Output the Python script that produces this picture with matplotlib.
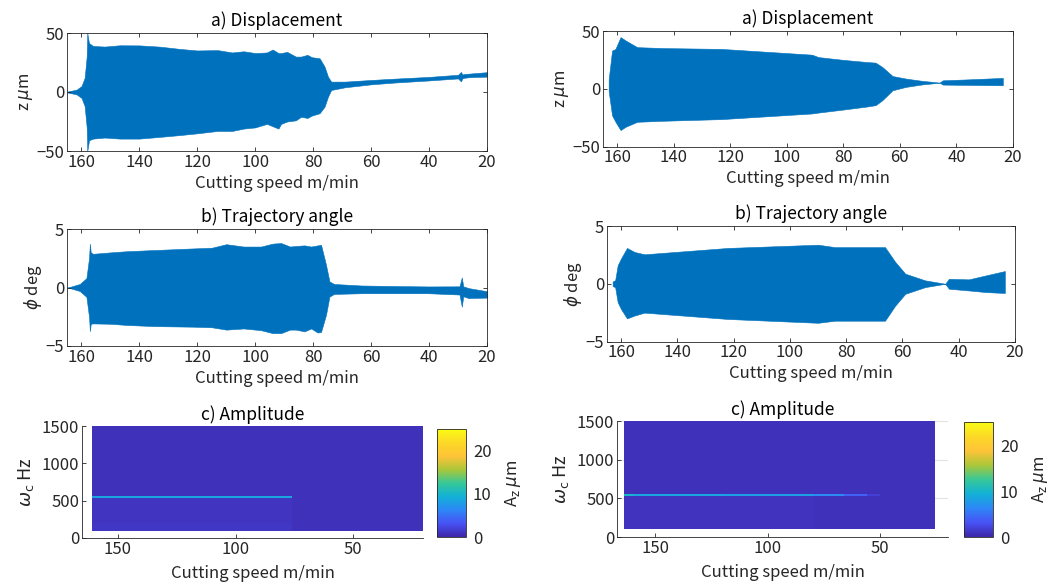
import numpy as np
import matplotlib
matplotlib.use("Agg")
import matplotlib.pyplot as plt
from matplotlib.colors import LinearSegmentedColormap

plt.rcParams['font.family'] = ['Noto Sans CJK JP', 'DejaVu Sans']
plt.rcParams['mathtext.fontset'] = 'dejavusans'

# ---------------- data ----------------
# Left column, a) displacement envelope (z, um)
L_disp_speed = [165, 161.7, 160, 158.9, 158.2, 158.0, 157.6, 157.4, 156, 152, 146.7, 140, 132.8,
                126, 120, 113, 108, 104, 100, 96, 94, 92, 91.1, 89, 86, 84.2, 82, 80.5, 77.8, 76.1,
                74.9, 73.8, 69, 60, 52, 40, 30, 29, 28.5, 28, 26, 20]
L_disp_upper = [0.3, 2, 5, 12, 30, 50, 44, 41.5, 39, 38.5, 39.6, 39.5, 38.4,
                36.5, 35.2, 35.5, 33.5, 34.5, 33, 33.5, 36, 33, 33, 34, 30, 30, 31.5, 29.5, 28.6, 21.6,
                13, 8.8, 8.8, 10.2, 11.3, 12.8, 14.6, 17, 14.8, 15.2, 15.6, 16.8]
L_disp_lower = [-0.3, -2, -5, -12, -30, -50, -44, -40.9, -39.5, -38.6, -39.5, -39.5, -38,
                -36.5, -35, -33, -33, -31, -30, -27, -29, -31, -27, -25, -24, -21, -22, -20, -18, -12.5,
                -4, 1.7, 4, 6.5, 8, 9.8, 11.5, 9, 11.6, 12, 12.6, 13]

# Left column, b) trajectory angle envelope (phi, deg)
L_ang_speed = [165, 164, 160.6, 158.3, 157.4, 157.1, 156.8, 156, 150, 144.4, 135, 121.3, 115,
               110, 104, 98, 94, 91.1, 88, 86, 83, 80.7, 78.5, 77.3, 75.6, 74.4, 72.8, 63.3, 50, 40.2,
               29.5, 28.7, 28.2, 26.4, 19.5]
L_ang_upper = [0.0, 0.05, 0.3, 0.8, 2.5, 3.74, 3.0, 2.88, 3.0, 3.1, 3.2, 3.34, 3.4,
               3.7, 3.5, 3.5, 3.75, 3.8, 3.5, 3.55, 3.6, 3.5, 3.6, 3.65, 1.96, 0.52, 0.3, 0.17, 0.12, 0.09,
               0.1, 0.86, 0.1, -0.05, -0.34]
L_ang_lower = [0.0, -0.05, -0.3, -0.8, -2.5, -3.73, -3.1, -3.07, -3.1, -3.2, -3.3, -3.35, -3.4,
               -3.6, -3.5, -3.65, -3.9, -3.9, -3.6, -3.6, -3.75, -3.5, -3.85, -3.8, -2.35, -0.78, -0.55, -0.49, -0.49, -0.49,
               -0.6, -1.64, -0.75, -0.9, -0.86]

# Right column, a) displacement envelope
R_disp_speed = [163, 161.8, 160.6, 158.8, 157, 152.9, 143.4, 123.2, 91.1, 88.8,
                80, 72, 68.6, 66.2, 62.6, 57.9, 52, 47, 46, 44.8, 35, 23.6]
R_disp_upper = [8, 33, 34.5, 44.7, 41.8, 36, 35.2, 34.5, 29.5, 27.4,
                25, 23.2, 22.6, 18.8, 11, 8.8, 6.8, 5.6, 5.3, 7.3, 8.2, 9.4]
R_disp_lower = [-2, -23, -28.6, -35.8, -32.9, -28.6, -27.7, -26.3, -21.4, -20.6,
                -18, -15.5, -14.2, -9.9, -1.3, 1.6, 3.8, 5.0, 5.3, 3.6, 3.3, 3.0]

# Right column, b) trajectory angle envelope
R_ang_speed = [163, 162.1, 161.2, 160, 157.9, 155.2, 151.7, 122, 90, 84, 66.2,
               62.6, 59, 51.9, 46, 44.8, 43.5, 36.4, 30.4, 23.6]
R_ang_upper = [0.2, 0.3, 1.6, 2.2, 3.1, 2.75, 2.55, 3.1, 3.38, 3.17, 3.17,
               1.9, 0.87, 0.29, 0.05, 0.0, 0.43, 0.38, 0.72, 1.1]
R_ang_lower = [-0.2, -0.3, -1.6, -2.2, -3.0, -2.75, -2.5, -3.05, -3.38, -3.2, -3.2,
               -1.9, -0.87, -0.29, -0.05, 0.0, -0.43, -0.58, -0.72, -0.8]

# c) Amplitude maps: speed segment edges, frequency band edges, amplitude per cell
L_map_speed_edges = [161, 76, 20]
R_map_speed_edges = [164, 160, 120, 80, 66, 56, 50, 25.5]
map_freq_edges = [100, 200, 530, 558, 1500]
# rows: 100-200 Hz, 200-530 Hz, ridge band, 558-1500 Hz
L_map_amp = [[1.25, 0.8],
             [1.0, 0.8],
             [8.5, 0.8],
             [0.85, 0.8]]
R_map_amp = [[0.9, 0.9, 0.9, 0.85, 0.85, 0.8, 0.8],
             [0.9, 0.9, 0.9, 0.85, 0.85, 0.8, 0.8],
             [10.0, 8.5, 8.0, 6.5, 4.0, 1.8, 0.8],
             [0.85, 0.85, 0.85, 0.8, 0.8, 0.8, 0.8]]

x_ticks_line = [160, 140, 120, 100, 80, 60, 40, 20]
x_ticks_map = [150, 100, 50]
y_ticks_map = [0, 500, 1000, 1500]
cbar_ticks = [0, 10, 20]

# ---------------- style ----------------
BLUE = '#0072BD'
AXC = '#262626'
parula = LinearSegmentedColormap.from_list('parula', [
    (0.000, (0.2422, 0.1504, 0.6603)),
    (0.125, (0.2810, 0.3228, 0.9579)),
    (0.250, (0.1786, 0.5289, 0.9682)),
    (0.375, (0.0689, 0.6948, 0.8394)),
    (0.500, (0.2161, 0.7843, 0.5923)),
    (0.625, (0.6720, 0.7793, 0.2227)),
    (0.750, (0.9970, 0.7659, 0.2199)),
    (0.875, (0.9900, 0.8500, 0.1500)),
    (1.000, (0.9769, 0.9839, 0.0805))])

W, H = 1055, 582
fig = plt.figure(figsize=(W / 100, H / 100), dpi=100)

FS_TICK = 12
FS_LAB = 12
FS_TITLE = 12.5


def rect(l, r, t, b):
    return [l / W, 1 - b / H, (r - l) / W, (b - t) / H]


def style_axes(ax, box=True):
    for s in ax.spines.values():
        s.set_color(AXC)
        s.set_linewidth(0.6)
    if not box:
        ax.spines['top'].set_visible(False)
        ax.spines['right'].set_visible(False)
    ax.tick_params(direction='in', colors=AXC, labelsize=FS_TICK, length=3, width=0.6,
                   top=box, right=box, pad=2)


def line_panel(ax, sp, up, lo, ylim, yticks, ylabel, title):
    ax.fill_between(sp, lo, up, color=BLUE, linewidth=0.4, edgecolor=BLUE)
    ax.set_xlim(165, 20)
    ax.set_ylim(*ylim)
    ax.set_xticks(x_ticks_line)
    ax.set_yticks(yticks)
    ax.set_yticklabels([str(v).replace('-', '\u2212') for v in yticks])
    ax.set_xlabel('Cutting speed m/min', fontsize=FS_LAB, color=AXC, labelpad=3)
    ax.set_ylabel(ylabel, fontsize=FS_LAB, color=AXC, labelpad=1)
    ax.set_title(title, fontsize=FS_TITLE, color='black', pad=5)
    style_axes(ax)


def map_panel(ax, cax, sp_edges, amp, xlim, grid):
    X, Y = np.meshgrid(sp_edges, map_freq_edges)
    m = ax.pcolormesh(X, Y, np.array(amp), cmap=parula, vmin=0, vmax=25, shading='flat')
    ax.set_xlim(*xlim)
    ax.set_ylim(0, 1500)
    ax.set_xticks(x_ticks_map)
    ax.set_yticks(y_ticks_map)
    ax.set_xlabel('Cutting speed m/min', fontsize=FS_LAB, color=AXC, labelpad=5)
    ax.set_ylabel(r'$\omega_{\rm c}$ Hz', fontsize=13, color=AXC, labelpad=4)
    ax.set_title('c) Amplitude', fontsize=FS_TITLE, color='black', pad=4)
    style_axes(ax, box=False)
    if grid:
        ax.set_axisbelow(True)
        ax.yaxis.grid(True, color='#e3e3e3', linewidth=0.8)
    cb = fig.colorbar(m, cax=cax, ticks=cbar_ticks)
    cb.outline.set_edgecolor(AXC)
    cb.outline.set_linewidth(0.6)
    cax.tick_params(direction='in', colors=AXC, labelsize=FS_TICK, length=0, pad=5)
    cb.set_label(r'A$_{\rm z}$ $\mu$m', fontsize=FS_LAB, color=AXC, labelpad=8)


# Left column
ax1 = fig.add_axes(rect(67, 487, 33, 151))
line_panel(ax1, L_disp_speed, L_disp_upper, L_disp_lower, (-50, 50), [-50, 0, 50],
           r'z $\mu$m', 'a) Displacement')
ax2 = fig.add_axes(rect(67, 487, 229, 346))
line_panel(ax2, L_ang_speed, L_ang_upper, L_ang_lower, (-5, 5), [-5, 0, 5],
           r'$\phi$ deg', 'b) Trajectory angle')
ax3 = fig.add_axes(rect(82, 423, 426, 538))
cax3 = fig.add_axes(rect(437, 466, 429, 537))
map_panel(ax3, cax3, L_map_speed_edges, L_map_amp, (165.3, 20.3), False)

# Right column
ax4 = fig.add_axes(rect(603, 1013, 31, 146.5))
line_panel(ax4, R_disp_speed, R_disp_upper, R_disp_lower, (-50, 50), [-50, 0, 50],
           r'z $\mu$m', 'a) Displacement')
ax5 = fig.add_axes(rect(607, 1015, 226, 341.5))
line_panel(ax5, R_ang_speed, R_ang_upper, R_ang_lower, (-5, 5), [-5, 0, 5],
           r'$\phi$ deg', 'b) Trajectory angle')
ax6 = fig.add_axes(rect(617, 948, 421, 537))
cax6 = fig.add_axes(rect(964, 993, 422, 537))
map_panel(ax6, cax6, R_map_speed_edges, R_map_amp, (167, 19.8), True)

fig.savefig('out.png', dpi=100, facecolor='white')
